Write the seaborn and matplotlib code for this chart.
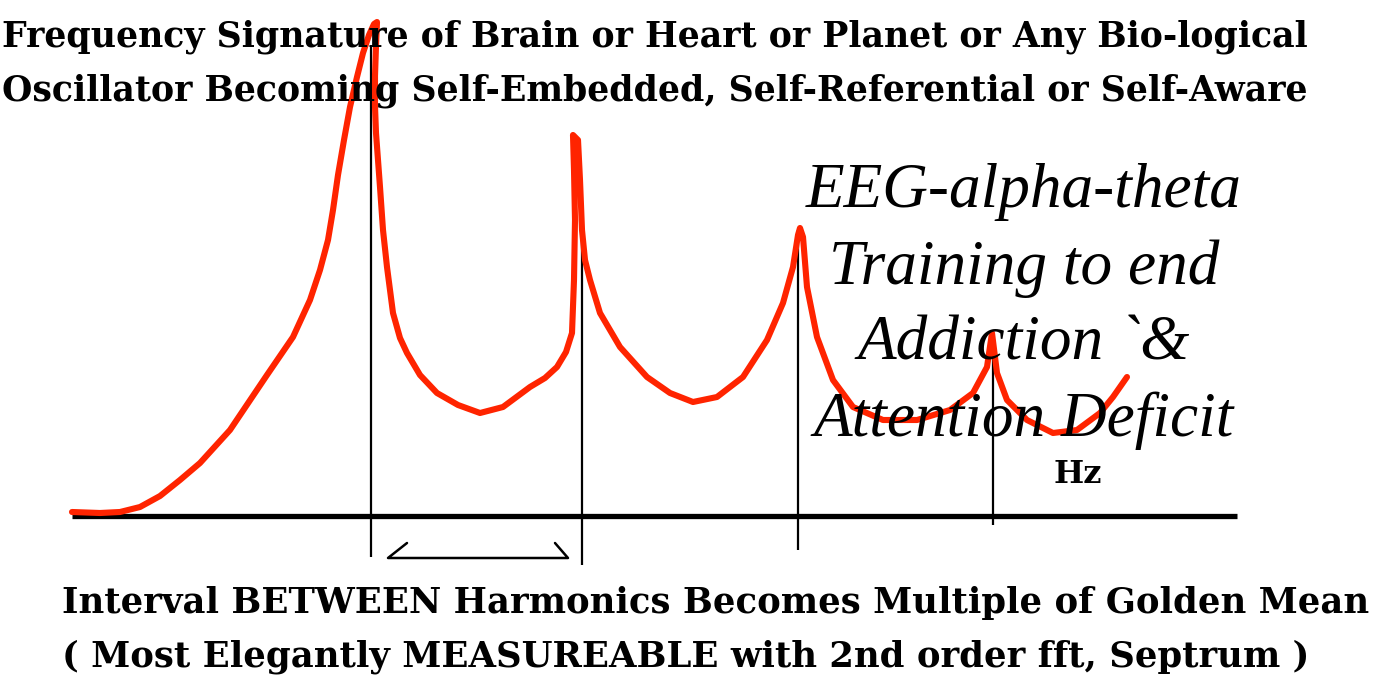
import matplotlib
matplotlib.use("Agg")
import matplotlib.pyplot as plt
import seaborn as sns
import pandas as pd

# Spectrum trace: frequency position and amplitude above the baseline
spectrum_hz = [72, 100, 120, 140, 160, 180, 200, 230, 267, 293, 310, 320, 328, 333,
               338, 344, 350, 357, 363, 369, 374, 377, 376, 375, 375, 376, 378, 380,
               383, 387, 393, 400, 407, 420, 437, 458, 480, 503, 530, 545, 557, 566,
               572, 574, 575, 574, 573, 578, 580, 582, 585, 590, 600, 620, 647, 670,
               693, 717, 743, 767, 783, 793, 798, 800, 803, 807, 817, 833, 853, 883,
               917, 950, 973, 987, 992, 997, 1007, 1027, 1053, 1077, 1100, 1113, 1127]
spectrum_amp = [4, 3, 4, 9, 20, 36, 53, 86, 141, 179, 216, 246, 276, 306,
                341, 376, 409, 439, 463, 481, 492, 494, 470, 440, 410, 383, 356, 329,
                286, 249, 203, 178, 163, 141, 123, 111, 103, 109, 129, 138, 149, 164,
                183, 236, 296, 346, 381, 376, 336, 286, 256, 236, 203, 169, 139, 123,
                114, 119, 139, 176, 213, 249, 281, 288, 279, 229, 179, 136, 109, 96,
                96, 106, 123, 149, 183, 143, 116, 96, 83, 86, 103, 119, 139]

# Harmonic peaks and the extent of their marker lines
harmonic_hz = [371, 582, 798, 993]
harmonic_top = [470, 286, 286, 171]
harmonic_bottom = [-41, -49, -34, -9]

title_lines = ["Frequency Signature of Brain or Heart or Planet or Any Bio-logical",
               "Oscillator Becoming Self-Embedded, Self-Referential or Self-Aware"]
caption_lines = ["Interval BETWEEN Harmonics Becomes Multiple of Golden Mean",
                 "( Most Elegantly MEASUREABLE with 2nd order fft, Septrum )"]
note_lines = ["EEG-alpha-theta", "Training to end", "Addiction `&", "Attention Deficit"]
unit_label = "Hz"

sns.set_theme(style="white")
plt.rcParams["font.family"] = ["Liberation Serif", "DejaVu Serif"]
heading_font = dict(family="DejaVu Serif", fontweight="bold", color="black")

fig = plt.figure(figsize=(13.79, 6.76), dpi=100)
ax = fig.add_axes([0, 0, 1, 1])
ax.set_xlim(0, 1379)
ax.set_ylim(-160, 516)
ax.set_axis_off()

# frequency axis
ax.plot([72, 1237], [0, 0], color="black", lw=3.8, solid_capstyle="butt", zorder=2)

# harmonic marker lines
ax.vlines(harmonic_hz, harmonic_bottom, harmonic_top, color="black", lw=1.6, zorder=1)

# spectrum curve
df = pd.DataFrame({"hz": spectrum_hz, "amp": spectrum_amp})
sns.lineplot(data=df, x="hz", y="amp", sort=False, estimator=None, ax=ax,
             color="#ff2400", lw=4.4, zorder=3)
ax.lines[-1].set_solid_joinstyle("round")
ax.lines[-1].set_solid_capstyle("round")

# bracket marking the interval between the first two harmonics
ax.plot([407, 388, 568, 555], [-27, -42, -42, -27], color="black", lw=1.8, zorder=2)

# headings
for i, line in enumerate(title_lines):
    ax.text(2, 469 - i * 53, line, fontsize=25, ha="left", va="baseline", **heading_font)
for i, line in enumerate(caption_lines):
    ax.text(62, -97 - i * 54, line, fontsize=25.5, ha="left", va="baseline", **heading_font)

# italic note on the right
for i, line in enumerate(note_lines):
    ax.text(1024, 309 - i * 76.5, line, fontsize=45.5, style="italic",
            ha="center", va="baseline", color="black", zorder=4)

ax.text(1078, 33, unit_label, fontsize=23, ha="center", va="baseline", **heading_font)

fig.savefig("out.png", dpi=100, facecolor="white")
